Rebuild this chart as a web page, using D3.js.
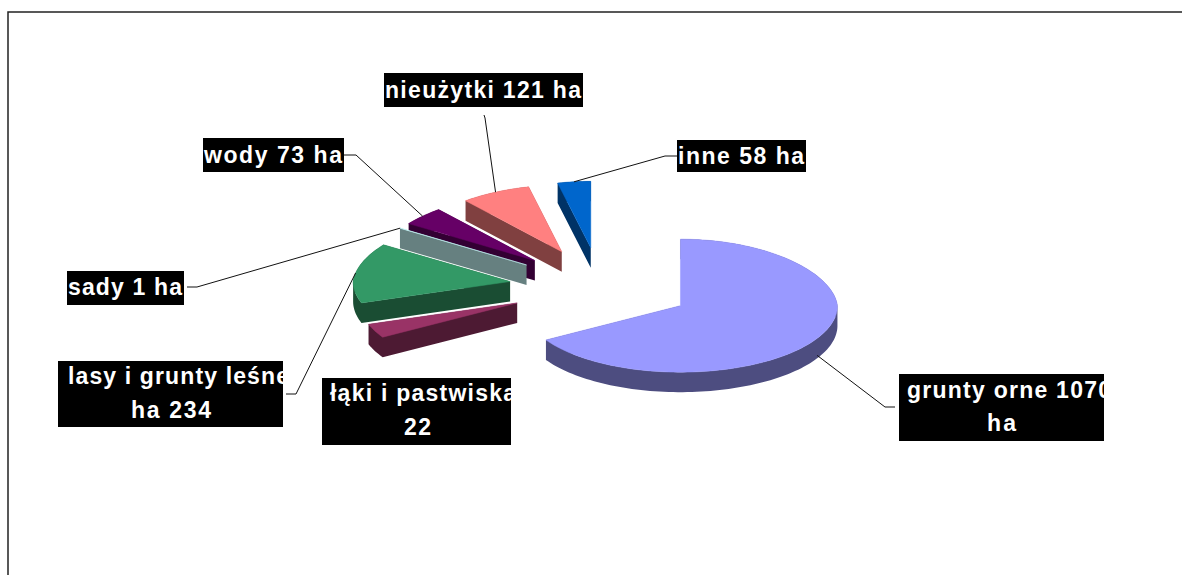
<!DOCTYPE html>
<html>
<head>
<meta charset="utf-8">
<script src="https://cdn.jsdelivr.net/npm/d3@7"></script>
<style>
    html, body { margin: 0; padding: 0; background: #fff; overflow: hidden; }
    text { font-family: "Liberation Sans", Arial, sans-serif; font-weight: bold; font-size: 23px; fill: #fff; }
</style>
</head>
<body>
<div id="chart"></div>
<script>
// values (ha)
// the meadow slice is measured from its drawn size (about 55), its label only says 22
const categories = ['grunty orne', 'łąki i pastwiska', 'lasy i grunty leśne', 'sady', 'wody', 'nieużytki', 'inne'];
const areas = [1070, 55, 234, 1, 73, 121, 58];
const colors = ['#9999FF', '#993366', '#339966', '#CCFFFF', '#660066', '#FF8080', '#0066CC'];

// label boxes, one entry per category: x, y, w, h
const labelBoxes = [
    [899, 374, 205, 67],
    [322, 378, 189, 67],
    [58, 361, 225, 66],
    [67, 271, 117, 34],
    [203, 138, 141, 34],
    [384, 73, 199, 34],
    [677, 140, 129, 32]
];
// lines: text, x, baseline, width
const labelLines = [
    [['grunty orne 1070', 907, 398, 204], ['ha', 987, 431, 29]],
    [['łąki i pastwiska', 330, 401, 186], ['22', 404, 435, 27]],
    [['lasy i grunty leśne', 68, 384, 221], ['ha 234', 131, 418, 80]],
    [['sady 1 ha', 68, 295, 114]],
    [['wody 73 ha', 204, 163, 138]],
    [['nieużytki 121 ha', 385, 98, 196]],
    [['inne 58 ha', 678, 164, 126]]
];
// leader line: label end, elbow (slice end comes from the pie geometry)
const leaders = [
    [[895, 407], [885, 407]],
    null,
    [[286, 394], [296, 394]],
    [[187, 287], [197, 287]],
    [[344, 155], [356, 155]],
    [[484, 115], [485, 118]],
    [[677, 156], [665, 156]]
];

const width = 1182;
const height = 575;
const cx = 600.5;
const cy = 286.5;
const rx = 157;
const ry = 66.5;
const depth = 20;
const explode = 0.585;
const backShrink = 0.06; // far side of the tilted pie looks a bit narrower

const svg = d3.select('#chart').append('svg')
    .attr('width', width)
    .attr('height', height)
    .style('display', 'block');

// frame of the chart area, cut by the window on the right and at the bottom
svg.append('path')
    .attr('d', d3.line()([[8, height], [8, 12], [width, 12]]))
    .attr('fill', 'none')
    .attr('stroke', '#222')
    .attr('stroke-width', 1.5);

const slices = d3.pie().sort(null).value(d => d)(areas);

// same tilted ellipse for all slices
function project(angle, radius, apex) {
    const shrink = 1 - backShrink * Math.max(0, Math.cos(angle));
    return [apex[0] + Math.sin(angle) * rx * shrink * radius, apex[1] - Math.cos(angle) * ry * radius];
}

function halfColor(c) {
    const rgb = d3.rgb(c);
    return d3.rgb(rgb.r / 2, rgb.g / 2, rgb.b / 2).formatHex();
}

slices.forEach(s => {
    s.mid = (s.startAngle + s.endAngle) / 2;
    s.apex = project(s.mid, explode, [cx, cy]);
    const n = Math.max(2, Math.ceil((s.endAngle - s.startAngle) / 0.03));
    s.outline = [s.apex].concat(d3.range(n + 1).map(i =>
        project(s.startAngle + (s.endAngle - s.startAngle) * i / n, 1, s.apex)));
});

// back slices first, the front ones paint over them
const drawOrder = [6, 5, 4, 3, 2, 0, 1];
const line = d3.line().curve(d3.curveLinearClosed);

drawOrder.forEach(i => {
    const s = slices[i];
    const g = svg.append('g').attr('class', 'slice');
    const dark = halfColor(colors[i]);

    // walls: one path so the pieces show no seams
    const walls = s.outline.map((p, k) => {
        const q = s.outline[(k + 1) % s.outline.length];
        const quad = [p, q, [q[0], q[1] + depth], [p[0], p[1] + depth]];
        // keep the winding the same or the overlaps cancel out
        return line(d3.polygonArea(quad) < 0 ? quad.reverse() : quad);
    }).join('');
    g.append('path')
        .attr('d', walls)
        .attr('fill', dark)
        .attr('fill-rule', 'nonzero');

    g.append('path')
        .attr('d', line(s.outline))
        .attr('fill', colors[i])
        .attr('stroke', colors[i])
        .attr('stroke-width', 0.5);
});

// leader lines
leaders.forEach((l, i) => {
    if (!l) return;
    const s = slices[i];
    const end = project(s.mid, 1, s.apex);
    // slices turned to the viewer are reached on the wall
    if (Math.cos(s.mid) < 0) end[1] += depth - 3;
    svg.append('path')
        .attr('d', d3.line()([l[0], l[1], end]))
        .attr('fill', 'none')
        .attr('stroke', '#111')
        .attr('stroke-width', 1);
});

// labels, text is cut by its box like in the source
labelBoxes.forEach((b, i) => {
    const id = 'clip' + i;
    svg.append('clipPath').attr('id', id).append('rect')
        .attr('x', b[0]).attr('y', b[1]).attr('width', b[2]).attr('height', b[3]);
    const g = svg.append('g').attr('clip-path', `url(#${id})`);
    g.append('rect')
        .attr('x', b[0]).attr('y', b[1]).attr('width', b[2]).attr('height', b[3])
        .attr('fill', '#000');
    labelLines[i].forEach(t => {
        g.append('text')
            .attr('x', t[1])
            .attr('y', t[2])
            .attr('textLength', t[3])
            .attr('lengthAdjust', 'spacing')
            .text(t[0]);
    });
});
</script>
</body>
</html>
